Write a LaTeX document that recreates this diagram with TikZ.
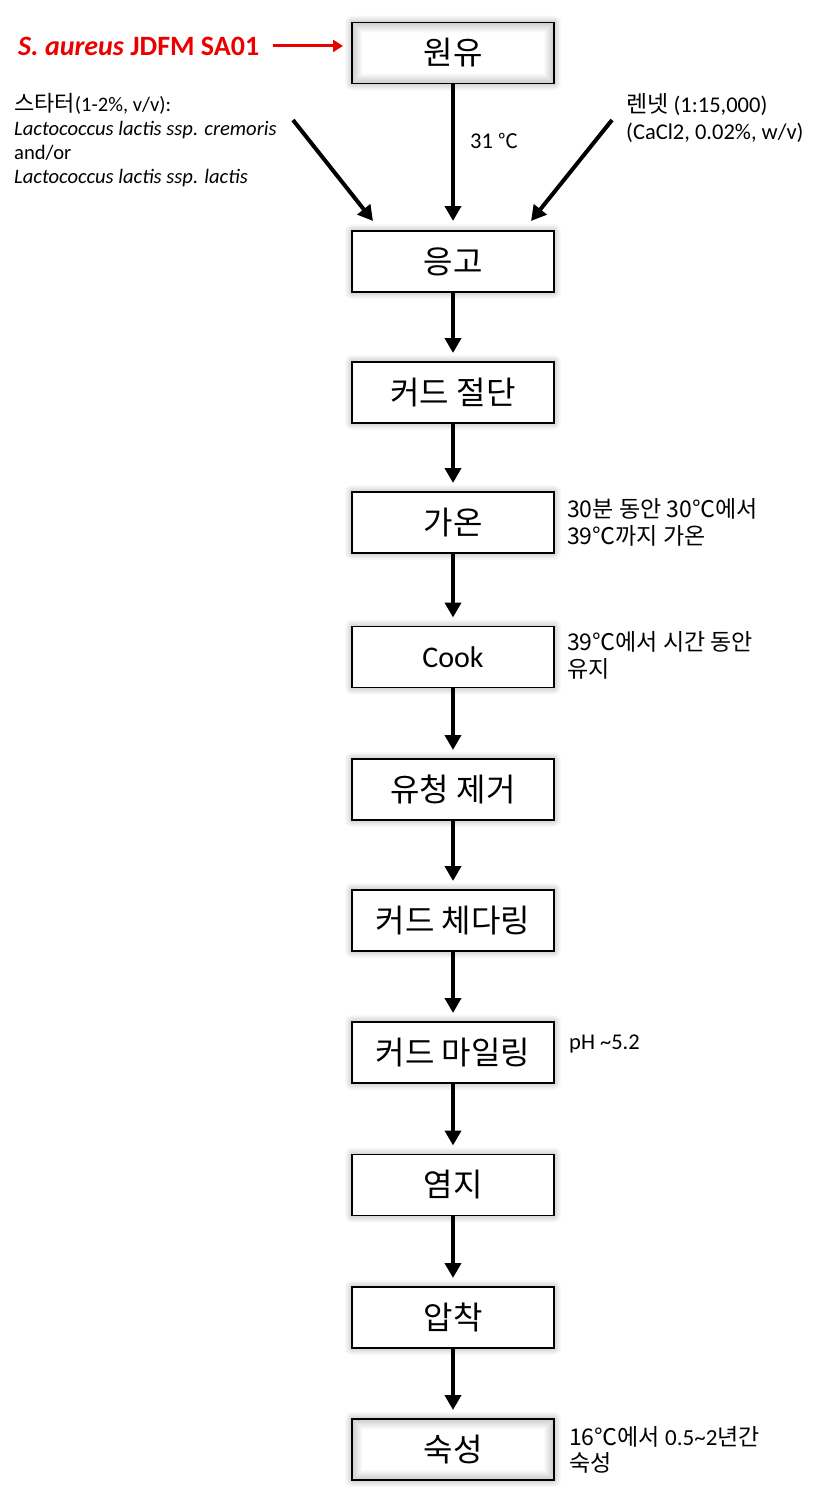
\documentclass[tikz,border=0pt]{standalone}
\usepackage{fontspec}
\setmainfont{Carlito}
\newfontfamily\kr{Noto Sans CJK KR}
\newfontfamily\lat{Carlito}
\usetikzlibrary{arrows.meta,backgrounds,calc}
\definecolor{sared}{RGB}{235,0,0}
\newcommand\outerglow[1]{%
  \begin{pgfonlayer}{background}%
  \foreach \i in {1,...,7}{%
    \fill[black,opacity=0.025,rounded corners=\i pt]
      ([shift={(-\i pt,-\i pt)}]#1.south west) rectangle ([shift={(\i pt,\i pt)}]#1.north east);}%
  \end{pgfonlayer}}
\newcommand\innerglow[1]{%
  \foreach \i in {2,...,10}{%
    \fill[black,opacity=0.018,even odd rule]
      (#1.south west) rectangle (#1.north east)
      ([shift={(\i pt,\i pt)}]#1.south west) rectangle ([shift={(-\i pt,-\i pt)}]#1.north east);}%
  \draw[line width=1.6pt] (#1.south west) rectangle (#1.north east);}
\begin{document}
\begin{tikzpicture}[x=1pt,y=-1pt,
  stepbox/.style={draw=black, line width=1.6pt, fill=white, minimum width=202pt,
    minimum height=61pt, inner sep=0pt, outer sep=0pt, font=\kr\fontsize{32}{36}\selectfont},
  flow/.style={line width=4pt, -{Triangle[width=16pt,length=15pt]}, shorten >=9pt},
  redflow/.style={sared, line width=3pt, -{Triangle[width=12pt,length=10pt]}},
  note/.style={anchor=base west, inner sep=0pt, font=\kr\fontsize{23}{27}\selectfont},
  lnote/.style={anchor=base west, inner sep=0pt, font=\fontsize{20.6}{24}\selectfont},
  rnote/.style={anchor=base west, inner sep=0pt, font=\fontsize{22.5}{27}\selectfont},
]
\begin{pgfonlayer}{background}
\fill[white] (0,0) rectangle (818,1502);
\end{pgfonlayer}
\useasboundingbox (0,0) rectangle (818,1502);

% boxes
\node[stepbox] (won)   at (453,53)    {원유};
\node[stepbox] (eung)  at (453,261.5) {응고};
\node[stepbox] (cut)   at (453,392.5) {커드 절단};
\node[stepbox] (heat)  at (453,522.5) {가온};
\node[stepbox, font=\fontsize{30}{34}\selectfont] (cook) at (453,657) {Cook};
\node[stepbox] (whey)  at (453,789.5) {유청 제거};
\node[stepbox] (ched)  at (453,920.5) {커드 체다링};
\node[stepbox] (mill)  at (453,1052.5) {커드 마일링};
\node[stepbox] (salt)  at (453,1185)  {염지};
\node[stepbox] (press) at (453,1317.5) {압착};
\node[stepbox] (ripe)  at (453,1449.5) {숙성};

\foreach \n in {won,eung,cut,heat,cook,whey,ched,mill,salt,press,ripe}{\outerglow{\n}}
\innerglow{won}
\innerglow{ripe}

% flow arrows
\draw[flow, shorten >=10pt] (won.south) -- (eung.north);
\draw[flow] (eung.south) -- (cut.north);
\draw[flow] (cut.south) -- (heat.north);
\draw[flow] (heat.south) -- (cook.north);
\draw[flow] (cook.south) -- (whey.north);
\draw[flow] (whey.south) -- (ched.north);
\draw[flow] (ched.south) -- (mill.north);
\draw[flow] (mill.south) -- (salt.north);
\draw[flow] (salt.south) -- (press.north);
\draw[flow] (press.south) -- (ripe.north);

% side inputs
\coordinate (sL) at (293,120);
\coordinate (eL) at (373,221);
\coordinate (sR) at (612,120);
\coordinate (eR) at (531,221);
\draw[flow, shorten >=0pt] (sL) -- (eL);
\draw[flow, shorten >=0pt] (sR) -- (eR);

\node[anchor=base west, inner sep=0pt, text=sared, font=\bfseries\fontsize{28}{32}\selectfont] (sa) at (18,55)
  {\textit{S. aureus} JDFM SA01};
\draw[redflow, shorten <=14pt, shorten >=9pt] (sa.east) -- (sa.east -| won.west);

\node[lnote] (st1) at (14,111) {{\kr\fontsize{22}{24}\selectfont 스타터}(1-2\%, v/v):};
\node[lnote] (st2) at (14,135) {\itshape Lactococcus lactis ssp. cremoris};
\node[lnote] (st3) at (14,159) {and/or};
\node[lnote] (st4) at (14,183) {\itshape Lactococcus lactis ssp. lactis};

\node[rnote] (re1) at (626,112) {{\kr\fontsize{23}{27}\selectfont 렌넷} (1:15,000)};
\node[rnote] (re2) at (626,139) {(CaCl2, 0.02\%, w/v)};

\node[rnote] (t31) at (470,148) {31 {\kr\fontsize{20}{24}\selectfont ℃}};

% side notes
\node[note] (h1) at (567,517) {30분 동안 30℃에서};
\node[note] (h2) at (567,544) {39℃까지 가온};
\node[note] (c1) at (567,650) {39℃에서 시간 동안};
\node[note] (c2) at (567,677) {유지};
\node[rnote] (p1) at (569,1049) {pH \textasciitilde5.2};
\node[note] (r1) at (569,1445) {16℃에서 {\lat\fontsize{23}{27}\selectfont 0.5\textasciitilde2}년간};
\node[note] (r2) at (569,1471) {숙성};
\end{tikzpicture}
\end{document}
